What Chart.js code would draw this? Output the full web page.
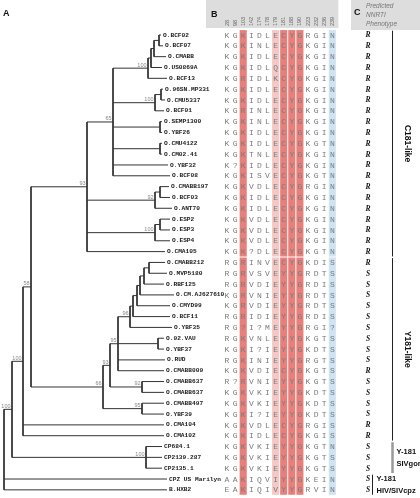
<!DOCTYPE html>
<html>
<head>
<meta charset="utf-8">
<title>NNRTI phenotype tree</title>
<script src="https://cdn.jsdelivr.net/npm/chart.js@4.4.1/dist/chart.umd.min.js"></script>
<style>
  html, body { margin: 0; padding: 0; background: #fff; }
  canvas { display: block; }
</style>
</head>
<body>
<canvas id="treeChart" width="420" height="498"></canvas>
<script>
// taxa, top to bottom (leaf numbers in the tree string are indexes into this list)
const taxa = [
  'O.BCF02', 'O.BCF07', 'O.CMABB', 'O.US0869A', 'O.BCF13', 'O.96SN.MP331', 'O.CMU5337',
  'O.BCF01', 'O.SEMP1300', 'O.YBF26', 'O.CMU4122', 'O.CM02.41', 'O.YBF32', 'O.BCF08',
  'O.CMABB197', 'O.BCF03', 'O.ANT70', 'O.ESP2', 'O.ESP3', 'O.ESP4', 'O.CMA105',
  'O.CMABB212', 'O.MVP5180', 'O.RBF125', 'O.CM.AJ627610', 'O.CMYD99', 'O.BCF11', 'O.YBF35',
  'O.92.VAU', 'O.YBF37', 'O.RUD', 'O.CMABB009', 'O.CMABB637', 'O.CMABB637', 'O.CMABB497',
  'O.YBF39', 'O.CMA104', 'O.CMA102', 'CP684.1', 'CP2139.287', 'CP2135.1', 'CPZ US Marilyn', 'B.HXB2'
];

// RT residues at the positions below, one string per taxon
const sequences = [
  'KGKIDLECYGRGIN', 'KGKINLECYGKGIN', 'KGKIDLECYGKGIN', 'KGKIDLQCYGKGIN', 'KGRIDLKCYGKGIN',
  'KGKIDLECYGKGIN', 'KGKIDLECYGKGIN', 'KGRINLECYGKGIN', 'KGKINLECYGKGIN', 'KGKIDLECYGKGIN',
  'KGKIDLECYGKGTN', 'KGKTNLECYGKGIN', 'K?KIDLECYGKGIN', 'KGKISVECYGKGTN', 'KGKVDLECYGRGIN',
  'KGKIDLECYGKGIN', 'KGKIDLECYGKGIN', 'KGKVDLECYGKGIN', 'KGKVDLECYGKGIN', 'KGKVDLECYGKGIN',
  'KGK?DLECYGKGTN', 'RGRINVECYGKDIS', 'RGRVSVEYYGRDTS', 'RGRVDIEYYGRDIS', 'KGRVNIEYYGRDTS',
  'KGRVDIEYYGRDTS', 'RGRIDIEYYGRDIS', 'RG?I?MEYYGRGI?', 'RGKVNLEYYGKGTS', 'KGKI?IEYYGKDTS',
  'RGKINIEYYGRGTS', 'KGKVDIECYGKGTS', 'R?RVNIEYYGKGTS', 'KGKVKIEYYGKDTS', 'KGKVKIEYYGKDTS',
  'KGKI?IEYYGKDTS', 'KGKVDLECYGRGIS', 'KGKIDLECYGKGIS', 'KGKVKIEYYGKGTN', 'KGKVKIEYYGKGTS',
  'KGKVKIEYYGKGTS', 'AAKIQVIYYGKEIN', 'EAKIQIVYYGRVIN'
];

const positions = [28, 98, 103, 142, 174, 178, 179, 181, 188, 190, 223, 232, 236, 239];
const redSites = [103, 181, 188, 190];
const pinkSites = [179];
const blueSites = [239];

const phenotypes = [
  'R','R','R','R','R','R','R','R','R','R','R','R','R','R','R','R','R','R','R','R','R',
  'R','S','S','S','S','S','S','S','S','S','R','S','S','S','S','R','R','S','S','S','S','S'
];

const groupNames = [['C181-like'], ['Y181-like'], ['Y-181', 'SIVgor'], ['Y-181', 'HIV/SIVcpz']];
const groupFirst = [0, 21, 38, 41];
const groupLast = [20, 37, 40, 42];

// tree: leaf = taxon index, internal label = bootstrap, ':' = branch length
const treeNewick =
  '((((' +
  '((' +
  '((((0:2,1:4):5,2:12):3,3:11):3,4:19)100:35,' +
  '((5:2,6:4):6,7:9)100:42,(8:2,9:2):47,(10:2,11:2):47,12:55,13:57)65:26,' +
  '((14:9,15:10):5,16:17)92:68,((17:10,18:10):5,19:15)100:68,20:78)93:56,' +
  '((((' +
  '(((((21:16,22:18):5,23:20):4,24:34):3,25:33):4,26:37):3,27:42)96:12,' +
  '(28:6,29:6):40,30:47,31:46)95:8,(32:22,33:22)92:32)93:7,(34:22,35:22)95:39)66:72' +
  ')58:8,36:141,37:141)100:11,(38:16,39:16,40:16)100:134)100:8,41:163,42:163);';

function parseNewick(s) {
  let i = 0;
  function readNode() {
    const n = { children: [] };
    if (s[i] === '(') {
      i++;
      n.children.push(readNode());
      while (s[i] === ',') { i++; n.children.push(readNode()); }
      i++;
    }
    let lab = '';
    while (i < s.length && !':,);'.includes(s[i])) lab += s[i++];
    n.label = lab;
    n.length = 0;
    if (s[i] === ':') {
      i++;
      let num = '';
      while (i < s.length && !',);'.includes(s[i])) num += s[i++];
      n.length = parseFloat(num);
    }
    return n;
  }
  return readNode();
}

const nodes = [];
function placeNode(n, parentDepth) {
  n.parentDepth = parentDepth;
  n.depth = parentDepth + n.length;
  if (n.children.length === 0) {
    n.row = parseInt(n.label, 10);
    n.y = n.row;
  } else {
    n.children.forEach(c => placeNode(c, n.depth));
    n.y = (n.children[0].y + n.children[n.children.length - 1].y) / 2;
  }
  nodes.push(n);
}
const tree = parseNewick(treeNewick);
placeNode(tree, 0);

// branch segments, broken with null points
const branchPoints = [];
nodes.forEach(n => {
  if (n !== tree) {
    branchPoints.push({ x: n.parentDepth, y: n.y }, { x: n.depth, y: n.y }, { x: n.depth, y: null });
  }
  if (n.children.length) {
    const first = n.children[0], last = n.children[n.children.length - 1];
    branchPoints.push({ x: n.depth, y: first.y }, { x: n.depth, y: last.y }, { x: n.depth, y: null });
  }
});

const SANS = '"Liberation Sans", Arial, sans-serif';
const MONO = '"Liberation Mono", "Courier New", monospace';
const SERIF = '"Liberation Serif", "Times New Roman", serif';

const panelPlugin = {
  id: 'panels',
  beforeDatasetsDraw(chart) {
    const { ctx } = chart;
    const xa = chart.scales.xa, y = chart.scales.y;
    ctx.save();
    // header bands
    ctx.fillStyle = '#dddddd';
    const bLeft = xa.getPixelForValue(-0.5) - 17;
    const bRight = xa.getPixelForValue(positions.length - 0.5) + 2;
    ctx.fillRect(bLeft, 0, bRight - bLeft, 28);
    ctx.fillRect(351, 0, 420 - 351, 30);

    // coloured alignment columns
    const blocks = [[0, 20], [21, 42]];
    const paint = (sites, colour) => {
      sites.forEach(site => {
        const j = positions.indexOf(site);
        const x0 = xa.getPixelForValue(j - 0.5) + 0.5;
        const x1 = xa.getPixelForValue(j + 0.5) - 0.5;
        ctx.fillStyle = colour;
        blocks.forEach(([a, b]) => {
          const y0 = y.getPixelForValue(a - 0.5) + 0.5;
          const y1 = y.getPixelForValue(b + 0.5) - 0.5;
          ctx.fillRect(x0, y0, x1 - x0, y1 - y0);
        });
      });
    };
    paint(redSites, '#e77f7a');
    paint(pinkSites, '#f5c8c5');
    paint(blueSites, '#cfe3f1');
    ctx.restore();
  },
  afterDatasetsDraw(chart) {
    const { ctx } = chart;
    const xt = chart.scales.x, xa = chart.scales.xa, y = chart.scales.y;
    ctx.save();

    // panel letters
    ctx.fillStyle = '#111';
    ctx.font = 'bold 9px ' + SANS;
    ctx.textBaseline = 'middle';
    ctx.textAlign = 'left';
    ctx.fillText('A', 3, 14);
    ctx.fillText('B', xa.getPixelForValue(-0.5) - 12, 15);
    ctx.fillText('C', 354, 13);

    // phenotype header
    ctx.fillStyle = '#777';
    ctx.font = 'italic 6.5px ' + SANS;
    ctx.fillText('Predicted', 366, 6);
    ctx.fillText('NNRTI', 366, 15);
    ctx.fillText('Phenotype', 366, 24);

    // position numbers, rotated
    ctx.fillStyle = '#666';
    ctx.font = '5.5px ' + SANS;
    positions.forEach((p, j) => {
      ctx.save();
      ctx.translate(xa.getPixelForValue(j), 26);
      ctx.rotate(-Math.PI / 2);
      ctx.textAlign = 'left';
      ctx.fillText(String(p), 0, 0);
      ctx.restore();
    });

    // tip labels
    ctx.fillStyle = '#1a1a1a';
    ctx.font = 'bold 6.2px ' + MONO;
    ctx.textAlign = 'left';
    ctx.textBaseline = 'middle';
    nodes.filter(n => !n.children.length).forEach(n => {
      ctx.fillText(taxa[n.row], xt.getPixelForValue(n.depth) + 2, y.getPixelForValue(n.y));
    });

    // bootstrap values
    ctx.fillStyle = '#888';
    ctx.font = '5.5px ' + SANS;
    ctx.textAlign = 'right';
    ctx.textBaseline = 'alphabetic';
    nodes.filter(n => n.children.length && n.label).forEach(n => {
      ctx.fillText(n.label, xt.getPixelForValue(n.depth) - 1.5, y.getPixelForValue(n.y) - 1.5);
    });

    // alignment letters
    ctx.fillStyle = '#7b7b7b';
    ctx.font = '8px ' + MONO;
    ctx.textAlign = 'center';
    ctx.textBaseline = 'middle';
    sequences.forEach((seq, i) => {
      const py = y.getPixelForValue(i) + 0.5;
      for (let j = 0; j < seq.length; j++) {
        ctx.fillText(seq[j], xa.getPixelForValue(j), py);
      }
    });

    // phenotypes
    ctx.fillStyle = '#111';
    ctx.font = 'bold italic 7.5px ' + SERIF;
    phenotypes.forEach((p, i) => ctx.fillText(p, 368, y.getPixelForValue(i) + 0.5));

    // group brackets
    groupNames.forEach((name, g) => {
      const top = y.getPixelForValue(groupFirst[g] - 0.4);
      const bottom = Math.min(y.getPixelForValue(groupLast[g] + 0.45), 497);
      const mid = (top + bottom) / 2;
      ctx.fillStyle = '#111';
      if (name.length === 1) {
        ctx.strokeStyle = '#222';
        ctx.lineWidth = 1;
        ctx.beginPath();
        ctx.moveTo(392.5, top);
        ctx.lineTo(392.5, bottom);
        ctx.stroke();
        ctx.save();
        ctx.translate(407, mid);
        ctx.rotate(Math.PI / 2);
        ctx.font = 'bold 8.5px ' + SANS;
        ctx.textAlign = 'center';
        ctx.fillText(name[0], 0, 0);
        ctx.restore();
      } else {
        const bx = g === 2 ? 392.5 : 372.5;
        ctx.strokeStyle = g === 2 ? '#9a9a9a' : '#222';
        ctx.lineWidth = g === 2 ? 2.5 : 1;
        ctx.beginPath();
        ctx.moveTo(bx, top);
        ctx.lineTo(bx, bottom);
        ctx.stroke();
        ctx.font = 'bold 7.5px ' + SANS;
        ctx.textAlign = 'left';
        ctx.fillText(name[0], bx + 4, mid - 6);
        ctx.fillText(name[1], bx + 4, mid + 6);
      }
    });
    ctx.restore();
  }
};

const ctx = document.getElementById('treeChart').getContext('2d');
new Chart(ctx, {
  type: 'scatter',
  data: {
    datasets: [{
      label: 'branches',
      data: branchPoints,
      xAxisID: 'x',
      yAxisID: 'y',
      showLine: true,
      spanGaps: false,
      borderColor: '#333333',
      borderWidth: 1,
      pointRadius: 0,
      pointHoverRadius: 0
    }]
  },
  options: {
    responsive: false,
    animation: false,
    layout: { padding: 0 },
    plugins: { legend: { display: false }, tooltip: { enabled: false } },
    scales: {
      x: { type: 'linear', display: false, min: -4, max: 416 },
      xa: { type: 'linear', axis: 'x', position: 'bottom', display: false, min: -28.025, max: 23.827 },
      y: { type: 'linear', display: false, reverse: true, min: -3.232, max: 42.752 }
    }
  },
  plugins: [panelPlugin]
});
</script>
</body>
</html>
